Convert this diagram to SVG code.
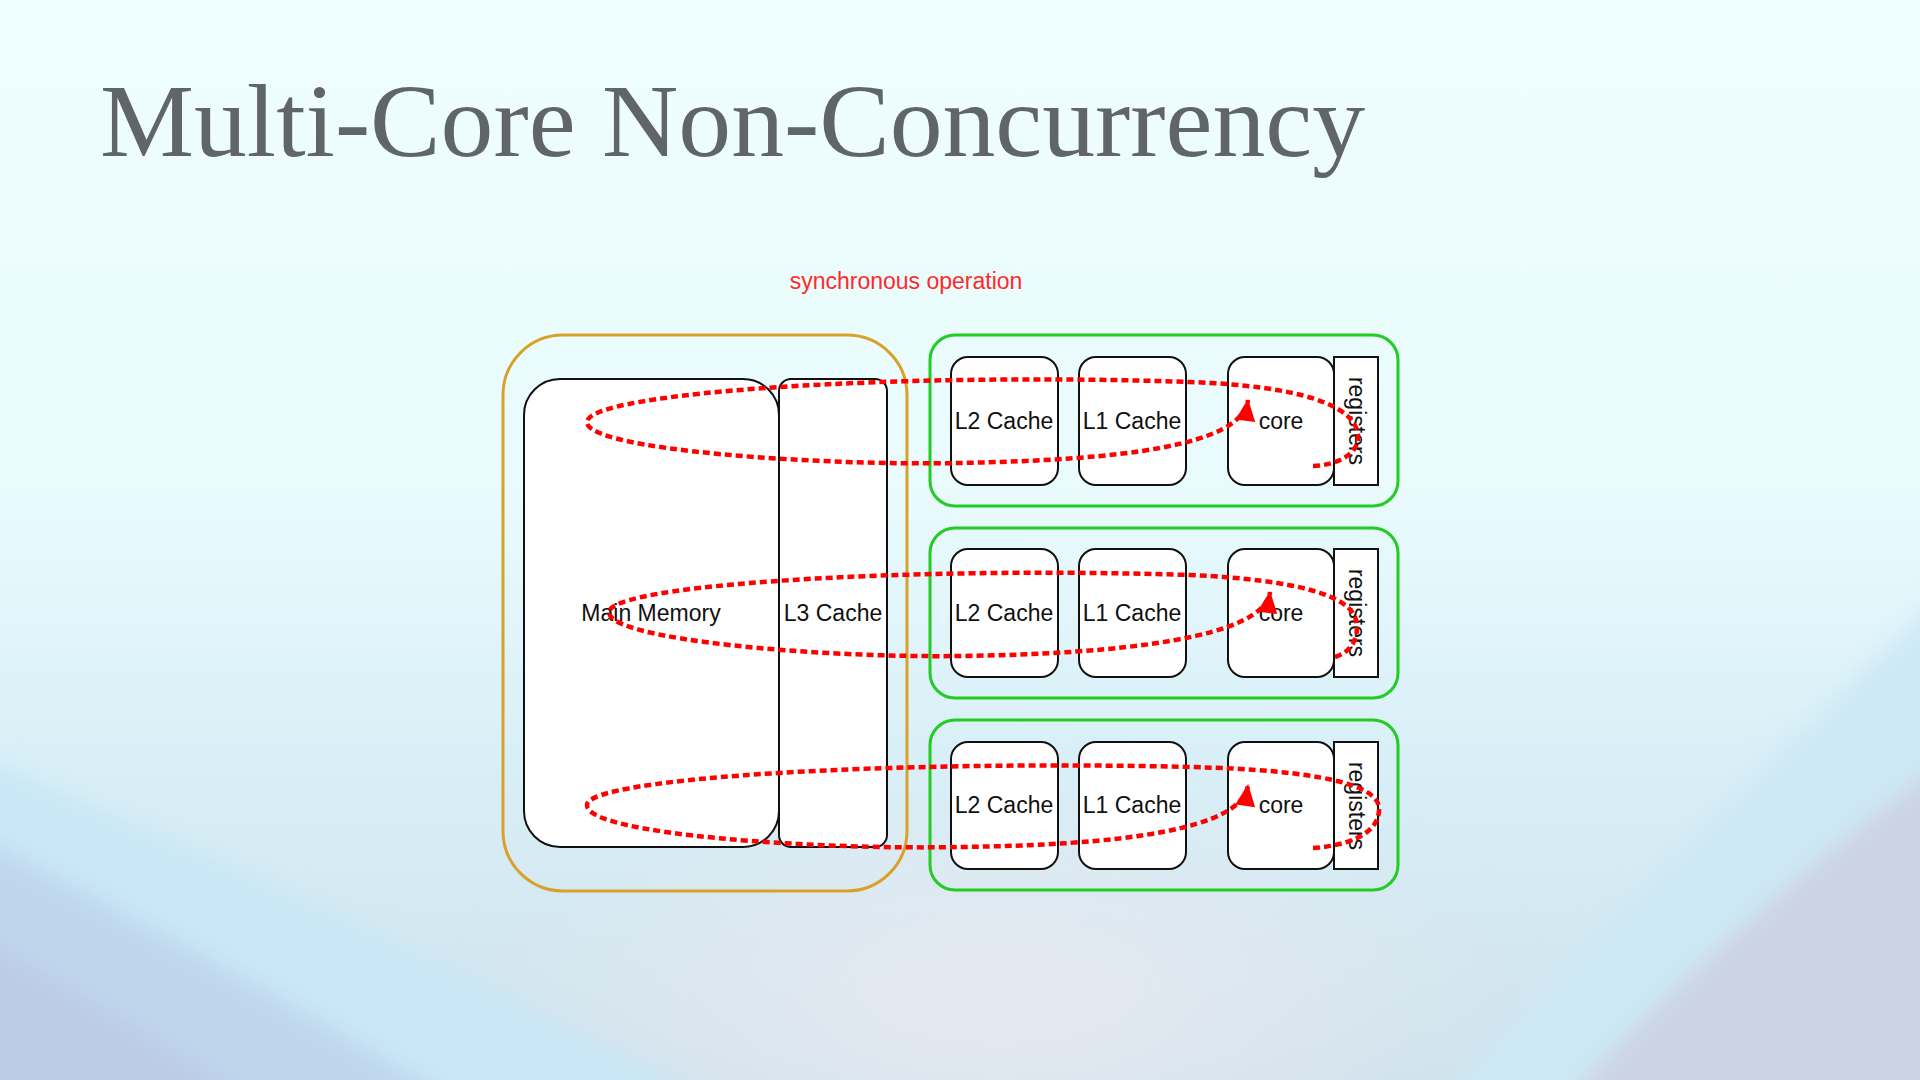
<svg xmlns="http://www.w3.org/2000/svg" width="1920" height="1080" viewBox="0 0 1920 1080">
  <defs>
    <linearGradient id="bg" x1="0" y1="0" x2="0" y2="1">
      <stop offset="0" stop-color="#effefe"/>
      <stop offset="0.45" stop-color="#e9fbfd"/>
      <stop offset="0.7" stop-color="#d9eff7"/>
      <stop offset="1" stop-color="#cfe2ec"/>
    </linearGradient>
    <radialGradient id="centerGlow" cx="0.5" cy="0.5" r="0.5">
      <stop offset="0" stop-color="#e7e9f0"/>
      <stop offset="1" stop-color="#e7e9f0" stop-opacity="0"/>
    </radialGradient>
    <filter id="soft" x="-20%" y="-20%" width="140%" height="140%">
      <feGaussianBlur stdDeviation="12"/>
    </filter>
    <filter id="softer" x="-20%" y="-20%" width="140%" height="140%">
      <feGaussianBlur stdDeviation="30"/>
    </filter>
    <marker id="arrow" viewBox="0 0 24 24" refX="23" refY="12" markerWidth="24" markerHeight="24" markerUnits="userSpaceOnUse" orient="auto">
      <path d="M24,12 L2,2 L2,22 Z" fill="#ff0000"/>
    </marker>
    <style>
      .title { font-family: "Liberation Serif", "Times New Roman", serif; font-size: 104px; fill: #60656c; }
      .lbl { font-family: "Liberation Sans", Arial, sans-serif; font-size: 23px; fill: #111; text-anchor: middle; }
      .red { font-family: "Liberation Sans", Arial, sans-serif; font-size: 23px; fill: #ff2a2a; text-anchor: middle; }
      .box { fill: #ffffff; stroke: #111; stroke-width: 2; }
      .group { fill: none; stroke: #22cc22; stroke-width: 3; }
      .outer { fill: none; stroke: #d9a128; stroke-width: 3; }
      .flow { fill: none; stroke: #ff0000; stroke-width: 4.5; stroke-dasharray: 7 4; marker-end: url(#arrow); }
    </style>
  </defs>

  <!-- background -->
  <rect x="0" y="0" width="1920" height="1080" fill="url(#bg)"/>
  <g filter="url(#softer)">
    <ellipse cx="1000" cy="1000" rx="520" ry="220" fill="url(#centerGlow)"/>
  </g>
  <g filter="url(#soft)">
    <path d="M-40,750 Q 380,920 760,1130 L -40,1130 Z" fill="#c9e7f6"/>
    <path d="M-40,830 Q 260,980 500,1130 L -40,1130 Z" fill="#bfd5ec"/>
    <path d="M-40,930 Q 150,1030 290,1130 L -40,1130 Z" fill="#bccbe6"/>
    <path d="M1960,580 Q 1650,870 1410,1130 L 1960,1130 Z" fill="#cde8f5"/>
    <path d="M1960,750 Q 1720,925 1540,1130 L 1960,1130 Z" fill="#ccd3e3"/>
  </g>

  <text class="title" x="100" y="156" textLength="1265" lengthAdjust="spacingAndGlyphs">Multi-Core Non-Concurrency</text>

  <g id="label-sync">
    <text class="red" x="906" y="289">synchronous operation</text>
  </g>

  <!-- memory side -->
  <g id="memory-group">
    <rect class="outer" x="503" y="335" width="404" height="556" rx="60" ry="60"/>
  </g>
  <g id="main-memory">
    <rect class="box" x="524" y="379" width="255" height="468" rx="36" ry="36"/>
    <text class="lbl" x="651" y="621">Main Memory</text>
  </g>
  <g id="l3-cache">
    <rect class="box" x="779" y="379" width="108" height="468" rx="12" ry="12"/>
    <text class="lbl" x="833" y="621">L3 Cache</text>
  </g>

  <!-- core 1 -->
  <g id="core-group-1">
    <rect class="group" x="930" y="335" width="468" height="171" rx="25" ry="25"/>
  </g>
  <g id="l2-1">
    <rect class="box" x="951" y="357" width="107" height="128" rx="17" ry="17"/>
    <text class="lbl" x="1004" y="429">L2 Cache</text>
  </g>
  <g id="l1-1">
    <rect class="box" x="1079" y="357" width="107" height="128" rx="17" ry="17"/>
    <text class="lbl" x="1132" y="429">L1 Cache</text>
  </g>
  <g id="core-1">
    <rect class="box" x="1228" y="357" width="106" height="128" rx="17" ry="17"/>
    <text class="lbl" x="1281" y="429">core</text>
  </g>
  <g id="registers-1">
    <rect class="box" x="1334" y="357" width="44" height="128"/>
    <text class="lbl" transform="translate(1349,421) rotate(90)" x="0" y="0">registers</text>
  </g>

  <!-- core 2 -->
  <g id="core-group-2">
    <rect class="group" x="930" y="528" width="468" height="170" rx="25" ry="25"/>
  </g>
  <g id="l2-2">
    <rect class="box" x="951" y="549" width="107" height="128" rx="17" ry="17"/>
    <text class="lbl" x="1004" y="621">L2 Cache</text>
  </g>
  <g id="l1-2">
    <rect class="box" x="1079" y="549" width="107" height="128" rx="17" ry="17"/>
    <text class="lbl" x="1132" y="621">L1 Cache</text>
  </g>
  <g id="core-2">
    <rect class="box" x="1228" y="549" width="106" height="128" rx="17" ry="17"/>
    <text class="lbl" x="1281" y="621">core</text>
  </g>
  <g id="registers-2">
    <rect class="box" x="1334" y="549" width="44" height="128"/>
    <text class="lbl" transform="translate(1349,613) rotate(90)" x="0" y="0">registers</text>
  </g>

  <!-- core 3 -->
  <g id="core-group-3">
    <rect class="group" x="930" y="720" width="468" height="170" rx="25" ry="25"/>
  </g>
  <g id="l2-3">
    <rect class="box" x="951" y="742" width="107" height="127" rx="17" ry="17"/>
    <text class="lbl" x="1004" y="813">L2 Cache</text>
  </g>
  <g id="l1-3">
    <rect class="box" x="1079" y="742" width="107" height="127" rx="17" ry="17"/>
    <text class="lbl" x="1132" y="813">L1 Cache</text>
  </g>
  <g id="core-3">
    <rect class="box" x="1228" y="742" width="106" height="127" rx="17" ry="17"/>
    <text class="lbl" x="1281" y="813">core</text>
  </g>
  <g id="registers-3">
    <rect class="box" x="1334" y="742" width="44" height="127"/>
    <text class="lbl" transform="translate(1349,806) rotate(90)" x="0" y="0">registers</text>
  </g>

  <!-- connectors -->
  <g id="connectors">
    <path class="flow" d="M1313,466 C1340,465 1360,452 1358,435 C1355,405 1300,386 1190,382 C900,372 588,392 587,422 C586,450 820,466 960,463 C1120,460 1242,446 1248,400"/>
    <path class="flow" d="M1335,657 C1352,652 1360,636 1356,620 C1350,596 1300,580 1190,575 C900,566 610,585 609,612 C608,640 820,658 960,656 C1120,654 1264,638 1270,592"/>
    <path class="flow" d="M1313,848 C1345,846 1380,835 1379,808 C1378,785 1320,770 1190,767 C900,760 588,777 587,805 C586,835 820,850 960,847 C1120,845 1242,830 1248,785"/>
  </g>
</svg>
